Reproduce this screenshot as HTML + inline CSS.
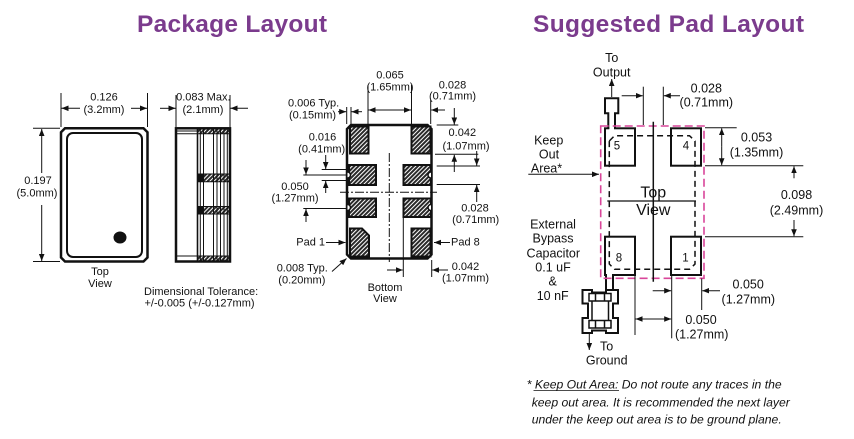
<!DOCTYPE html>
<html><head><meta charset="utf-8"><style>
html,body{margin:0;padding:0;background:#fff;}
svg{display:block;}
text{font-family:"Liberation Sans",Arial,sans-serif;fill:#111;}
</style></head><body>
<svg width="854" height="439" viewBox="0 0 854 439" xmlns="http://www.w3.org/2000/svg">
<defs>
<marker id="ar" viewBox="0 0 10 8" refX="10" refY="4" markerWidth="7" markerHeight="5.6" markerUnits="userSpaceOnUse" orient="auto"><path d="M0,0 L10,4 L0,8 z" fill="#111"/></marker>
<pattern id="h" width="3" height="3" patternUnits="userSpaceOnUse" patternTransform="rotate(45)"><rect width="3" height="3" fill="#2a2a2a"/><rect width="1" height="3" fill="#fff"/></pattern>
</defs>
<rect width="854" height="439" fill="#fff"/>

<!-- Titles -->
<text x="137" y="32" font-size="24.5" font-weight="bold" style="fill:#7b3b8d" textLength="190" lengthAdjust="spacing">Package Layout</text>
<text x="533" y="32" font-size="24.5" font-weight="bold" style="fill:#7b3b8d" textLength="271" lengthAdjust="spacing">Suggested Pad Layout</text>

<!-- ============ LEFT: TOP VIEW ============ -->
<g fill="none" stroke="#111">
<polygon points="65,128.3 143.5,128.3 147.5,132.3 147.5,257.5 143.5,261.5 65,261.5 61,257.5 61,132.3" stroke-width="2.5"/>
<rect x="67" y="133" width="75" height="124" rx="6" stroke-width="2"/>
</g>
<ellipse cx="120" cy="237.5" rx="6.5" ry="6" fill="#111"/>

<g stroke="#111" stroke-width="1" fill="none">
<line x1="61" y1="93" x2="61" y2="127"/>
<line x1="147.5" y1="93" x2="147.5" y2="127"/>
<line x1="80" y1="108.3" x2="61.5" y2="108.3" marker-end="url(#ar)"/>
<line x1="131" y1="108.3" x2="147" y2="108.3" marker-end="url(#ar)"/>
<line x1="33" y1="128.3" x2="60" y2="128.3"/>
<line x1="33" y1="261.5" x2="60" y2="261.5"/>
<line x1="41.7" y1="173" x2="41.7" y2="129" marker-end="url(#ar)"/>
<line x1="41.7" y1="205" x2="41.7" y2="261" marker-end="url(#ar)"/>
</g>
<g font-size="11" text-anchor="middle">
<text x="104" y="100.5">0.126</text>
<text x="104" y="113">(3.2mm)</text>
<text x="38" y="184">0.197</text>
<text x="37" y="196.5">(5.0mm)</text>
<text x="100" y="275">Top</text>
<text x="100" y="287">View</text>
</g>

<!-- Side view -->
<g stroke="#111" fill="none">
<rect x="197.5" y="128.3" width="32.5" height="5.2" fill="url(#h)" stroke="none"/>
<rect x="197.5" y="174" width="32.5" height="7.7" fill="url(#h)" stroke="none"/>
<rect x="197.5" y="206.5" width="32.5" height="7.5" fill="url(#h)" stroke="none"/>
<rect x="197.5" y="256" width="32.5" height="5.5" fill="url(#h)" stroke="none"/>
<rect x="197.5" y="174" width="6" height="7.7" fill="#111" stroke="none"/>
<rect x="197.5" y="206.5" width="6" height="7.5" fill="#111" stroke="none"/>
<g stroke-width="1">
<line x1="200.3" y1="128.3" x2="200.3" y2="261.5"/>
<line x1="203.5" y1="128.3" x2="203.5" y2="261.5"/>
<line x1="213.5" y1="128.3" x2="213.5" y2="261.5"/>
<line x1="217" y1="128.3" x2="217" y2="261.5"/>
<line x1="220.5" y1="128.3" x2="220.5" y2="261.5"/>
<line x1="224" y1="128.3" x2="224" y2="261.5"/>
<line x1="227.3" y1="128.3" x2="227.3" y2="261.5"/>
<line x1="176" y1="131" x2="197.5" y2="131"/>
<line x1="176" y1="133.8" x2="230" y2="133.8"/>
<line x1="197.5" y1="174" x2="230" y2="174"/>
<line x1="197.5" y1="181.7" x2="230" y2="181.7"/>
<line x1="197.5" y1="206.5" x2="230" y2="206.5"/>
<line x1="197.5" y1="214" x2="230" y2="214"/>
<line x1="176" y1="256" x2="230" y2="256"/>
</g>
<line x1="197.5" y1="128.3" x2="197.5" y2="261.5" stroke-width="1.6"/>
<rect x="176" y="128.3" width="54" height="133.2" stroke-width="2.5"/>
</g>
<g stroke="#111" stroke-width="1" fill="none">
<line x1="176" y1="95" x2="176" y2="127"/>
<line x1="230" y1="95" x2="230" y2="127"/>
<line x1="160" y1="108.3" x2="175.5" y2="108.3" marker-end="url(#ar)"/>
<line x1="248" y1="108.3" x2="230.5" y2="108.3" marker-end="url(#ar)"/>
</g>
<g font-size="11">
<text x="203.3" y="100.7" text-anchor="middle">0.083 Max.</text>
<text x="203" y="113" text-anchor="middle">(2.1mm)</text>
<text x="144" y="295">Dimensional Tolerance:</text>
<text x="144.5" y="306.3">+/-0.005 (+/-0.127mm)</text>
</g>

<!-- ============ MIDDLE: BOTTOM VIEW ============ -->
<path d="M351,125 H427.5 L431.5,129 V254.5 L427.5,258.5 H351 L347,254.5 V129 Z" fill="#fff" stroke="#111" stroke-width="2.5"/>
<g stroke="#111" stroke-width="2" fill="url(#h)">
<rect x="350" y="126.5" width="18.5" height="27"/>
<rect x="411.5" y="126.5" width="19" height="27"/>
<rect x="349" y="165" width="27" height="20"/>
<rect x="349" y="198.5" width="27" height="18.5"/>
<rect x="403.5" y="165" width="27.5" height="20"/>
<rect x="403.5" y="198.5" width="27.5" height="18.5"/>
<polygon points="350,228.5 362,228.5 369,235.5 369,256.5 350,256.5"/>
<rect x="411.5" y="228.5" width="19" height="28"/>
</g>
<g fill="#fff" stroke="#111" stroke-width="1.5">
<path d="M347.5,172 a3,3 0 0 1 0,6"/>
<path d="M347.5,204.5 a3,3 0 0 1 0,6"/>
<path d="M431,172 a3,3 0 0 0 0,6"/>
<path d="M431,204.5 a3,3 0 0 0 0,6"/>
</g>
<g stroke="#111" stroke-width="1" fill="none">
<line x1="389.3" y1="153" x2="389.3" y2="262" stroke-dasharray="9 2 2 2"/>
<line x1="340" y1="192.2" x2="437" y2="192.2" stroke-dasharray="9 2 2 2"/>
<!-- 0.065 -->
<line x1="368" y1="85" x2="368" y2="125"/>
<line x1="411.5" y1="85" x2="411.5" y2="125"/>
<line x1="389" y1="110" x2="368.5" y2="110" marker-end="url(#ar)"/>
<line x1="389" y1="110" x2="411" y2="110" marker-end="url(#ar)"/>
<!-- 0.006 -->
<line x1="346.7" y1="107" x2="346.7" y2="124"/>
<line x1="351" y1="107" x2="351" y2="124"/>
<line x1="338" y1="111.7" x2="346.2" y2="111.7" marker-end="url(#ar)"/>
<line x1="362" y1="111.7" x2="351.5" y2="111.7" marker-end="url(#ar)"/>
<!-- 0.028 top right -->
<line x1="430.7" y1="100" x2="430.7" y2="124"/>
<line x1="445" y1="110" x2="431.2" y2="110" marker-end="url(#ar)"/>
<!-- 0.042 right -->
<line x1="454.3" y1="108" x2="454.3" y2="124.5" marker-end="url(#ar)"/>
<line x1="436.7" y1="125" x2="458.3" y2="125"/>
<line x1="435" y1="154.3" x2="478.3" y2="154.3"/>
<line x1="454.3" y1="172" x2="454.3" y2="154.8" marker-end="url(#ar)"/>
<!-- 0.028 right -->
<line x1="476.7" y1="151" x2="476.7" y2="165.5" marker-end="url(#ar)"/>
<line x1="436.7" y1="166" x2="480" y2="166"/>
<line x1="436.7" y1="184.5" x2="480" y2="184.5"/>
<line x1="476.7" y1="202" x2="476.7" y2="185" marker-end="url(#ar)"/>
<!-- 0.016 / 0.050 left -->
<line x1="306" y1="160" x2="306" y2="174.5" marker-end="url(#ar)"/>
<line x1="303.3" y1="175" x2="346" y2="175"/>
<line x1="325.7" y1="155" x2="325.7" y2="169" marker-end="url(#ar)"/>
<line x1="321.7" y1="169.5" x2="346" y2="169.5"/>
<line x1="325.7" y1="193" x2="325.7" y2="181" marker-end="url(#ar)"/>
<line x1="321.7" y1="180.5" x2="346" y2="180.5"/>
<line x1="306" y1="222" x2="306" y2="209" marker-end="url(#ar)"/>
<line x1="303.3" y1="208.5" x2="346" y2="208.5"/>
<!-- pad 1 / pad 8 -->
<line x1="326" y1="242.5" x2="345.5" y2="242.5" marker-end="url(#ar)"/>
<line x1="450" y1="242.5" x2="434" y2="242.5" marker-end="url(#ar)"/>
<!-- 0.008 -->
<line x1="332" y1="271.5" x2="346.5" y2="258.5" marker-end="url(#ar)"/>
<!-- bottom 0.042 -->
<line x1="403.3" y1="218" x2="403.3" y2="277"/>
<line x1="387" y1="270" x2="402.8" y2="270" marker-end="url(#ar)"/>
<line x1="431.7" y1="260" x2="431.7" y2="277"/>
<line x1="448" y1="270" x2="432.2" y2="270" marker-end="url(#ar)"/>
</g>
<g font-size="11">
<text x="390" y="78.5" text-anchor="middle">0.065</text>
<text x="390" y="90.5" text-anchor="middle">(1.65mm)</text>
<text x="288" y="106.7">0.006 Typ.</text>
<text x="289" y="118.3">(0.15mm)</text>
<text x="452.5" y="88.3" text-anchor="middle">0.028</text>
<text x="452.5" y="99.7" text-anchor="middle">(0.71mm)</text>
<text x="462.3" y="136" text-anchor="middle">0.042</text>
<text x="466" y="149.3" text-anchor="middle">(1.07mm)</text>
<text x="475" y="211.7" text-anchor="middle">0.028</text>
<text x="475.7" y="223" text-anchor="middle">(0.71mm)</text>
<text x="322.5" y="140.7" text-anchor="middle">0.016</text>
<text x="321.7" y="152.7" text-anchor="middle">(0.41mm)</text>
<text x="295" y="190" text-anchor="middle">0.050</text>
<text x="295" y="201.7" text-anchor="middle">(1.27mm)</text>
<text x="325" y="245.5" text-anchor="end">Pad 1</text>
<text x="451" y="245.5">Pad 8</text>
<text x="276.7" y="271.7">0.008 Typ.</text>
<text x="278.3" y="283.3">(0.20mm)</text>
<text x="465.5" y="270" text-anchor="middle">0.042</text>
<text x="465.5" y="281.7" text-anchor="middle">(1.07mm)</text>
<text x="385" y="291" text-anchor="middle">Bottom</text>
<text x="385" y="302" text-anchor="middle">View</text>
</g>

<!-- ============ RIGHT: PAD LAYOUT ============ -->
<g fill="#fff" stroke="#111" stroke-width="2">
<rect x="605" y="128.3" width="30" height="37.4"/>
<rect x="671" y="128.3" width="30" height="37.4"/>
<rect x="605" y="236.7" width="30" height="38.3"/>
<rect x="671" y="236.7" width="30" height="38.3"/>
</g>
<rect x="609.3" y="126.5" width="4.7" height="3.5" fill="#fff"/>
<rect x="607" y="273.5" width="5" height="3.5" fill="#fff"/>
<g fill="none" stroke="#111" stroke-width="2">
<path d="M608.3,129 V113.3 H605 V98.3 H618.3 V113.3 H615 V129"/>
<line x1="606" y1="274" x2="606" y2="290"/>
<line x1="613" y1="274" x2="613" y2="290"/>
<path d="M582.5,290 H592 V292.5 H606 V290 H618 V303.5 H613 V318 H618 V333 H606 V330.5 H592 V333 H582.5 V318 H588 V303.5 H582.5 Z"/>
</g>
<g fill="none" stroke="#111" stroke-width="1.5">
<rect x="589" y="293.5" width="22" height="7.5"/>
<line x1="595.5" y1="293.5" x2="595.5" y2="301"/>
<line x1="604.5" y1="293.5" x2="604.5" y2="301"/>
<rect x="589" y="320.5" width="22" height="7.5"/>
<line x1="595.5" y1="320.5" x2="595.5" y2="328"/>
<line x1="604.5" y1="320.5" x2="604.5" y2="328"/>
<line x1="592" y1="301" x2="592" y2="320.5"/>
<line x1="608.5" y1="301" x2="608.5" y2="320.5"/>
</g>
<path d="M609.3,141 L614.5,135.7 H689.5 L695,141 V264 L689.5,269.3 H614.5 L609.3,264 Z" fill="none" stroke="#111" stroke-width="1.5" stroke-dasharray="6 4"/>
<rect x="600.7" y="126" width="103.3" height="152.3" fill="none" stroke="#d9469a" stroke-width="1.6" stroke-dasharray="8 4"/>
<line x1="653.3" y1="121.7" x2="653.3" y2="281.7" stroke="#111" stroke-width="1.5"/>
<line x1="607.3" y1="201" x2="696" y2="201" stroke="#111" stroke-width="1.2"/>
<g font-size="11.5" text-anchor="middle">
<text x="617" y="149.5">5</text>
<text x="686" y="149.5">4</text>
<text x="619" y="261.7">8</text>
<text x="685.5" y="261.7">1</text>
</g>
<g font-size="16" text-anchor="middle">
<text x="653.3" y="197.7">Top</text>
<text x="653.3" y="215">View</text>
</g>
<g stroke="#111" stroke-width="1" fill="none">
<line x1="611.7" y1="97" x2="611.7" y2="79" marker-end="url(#ar)"/>
<line x1="643.3" y1="86.7" x2="643.3" y2="125"/>
<line x1="663.3" y1="86.7" x2="663.3" y2="125"/>
<line x1="621.7" y1="95.7" x2="642.8" y2="95.7" marker-end="url(#ar)"/>
<line x1="680" y1="95.7" x2="663.8" y2="95.7" marker-end="url(#ar)"/>
<line x1="705" y1="127.7" x2="736.7" y2="127.7"/>
<line x1="705" y1="165.7" x2="803.3" y2="165.7"/>
<line x1="721.7" y1="146.7" x2="721.7" y2="128.2" marker-end="url(#ar)"/>
<line x1="721.7" y1="146.7" x2="721.7" y2="165.2" marker-end="url(#ar)"/>
<line x1="705" y1="236.7" x2="803.3" y2="236.7"/>
<line x1="794" y1="178.3" x2="794" y2="166.2" marker-end="url(#ar)"/>
<line x1="794" y1="220" x2="794" y2="236.2" marker-end="url(#ar)"/>
<line x1="528.3" y1="174.3" x2="599" y2="174.3" marker-end="url(#ar)"/>
<line x1="635" y1="276" x2="635" y2="335"/>
<line x1="671.7" y1="276" x2="671.7" y2="338.3"/>
<line x1="701.7" y1="278.5" x2="701.7" y2="310"/>
<line x1="652.7" y1="290.7" x2="671.2" y2="290.7" marker-end="url(#ar)"/>
<line x1="720" y1="290.7" x2="702.2" y2="290.7" marker-end="url(#ar)"/>
<line x1="653" y1="319" x2="635.5" y2="319" marker-end="url(#ar)"/>
<line x1="653" y1="319" x2="671.2" y2="319" marker-end="url(#ar)"/>
<line x1="589.3" y1="333" x2="589.3" y2="350" marker-end="url(#ar)"/>
<line x1="533.5" y1="390.5" x2="619" y2="390.5" stroke-width="0.8"/>
</g>
<g font-size="12.5" text-anchor="middle">
<text x="611.7" y="62">To</text>
<text x="611.7" y="76.7">Output</text>
<text x="706.3" y="92.3">0.028</text>
<text x="706.3" y="106.7">(0.71mm)</text>
<text x="756.5" y="141.7">0.053</text>
<text x="756.5" y="156.7">(1.35mm)</text>
<text x="796.5" y="199">0.098</text>
<text x="796.5" y="214.3">(2.49mm)</text>
<text x="548.7" y="144.3">Keep</text>
<text x="549" y="158.3">Out</text>
<text x="546.5" y="172.7">Area*</text>
<text x="553" y="228.3">External</text>
<text x="553" y="242.7">Bypass</text>
<text x="553.3" y="257.5">Capacitor</text>
<text x="553" y="271.7">0.1 uF</text>
<text x="552.7" y="285.3">&amp;</text>
<text x="552.7" y="300">10 nF</text>
<text x="748.2" y="288.7">0.050</text>
<text x="748.3" y="303.3">(1.27mm)</text>
<text x="701" y="324">0.050</text>
<text x="701.7" y="338.3">(1.27mm)</text>
<text x="606.7" y="364.5">Ground</text>
</g>
<text x="600" y="350.3" font-size="12.5">To</text>
<g font-size="12.2" font-style="italic">
<text x="526.7" y="388.3">* Keep Out Area: Do not route any traces in the</text>
<text x="531.7" y="406.5">keep out area. It is recommended the next layer</text>
<text x="531.7" y="423.3">under the keep out area is to be ground plane.</text>
</g>
</svg>
</body></html>
